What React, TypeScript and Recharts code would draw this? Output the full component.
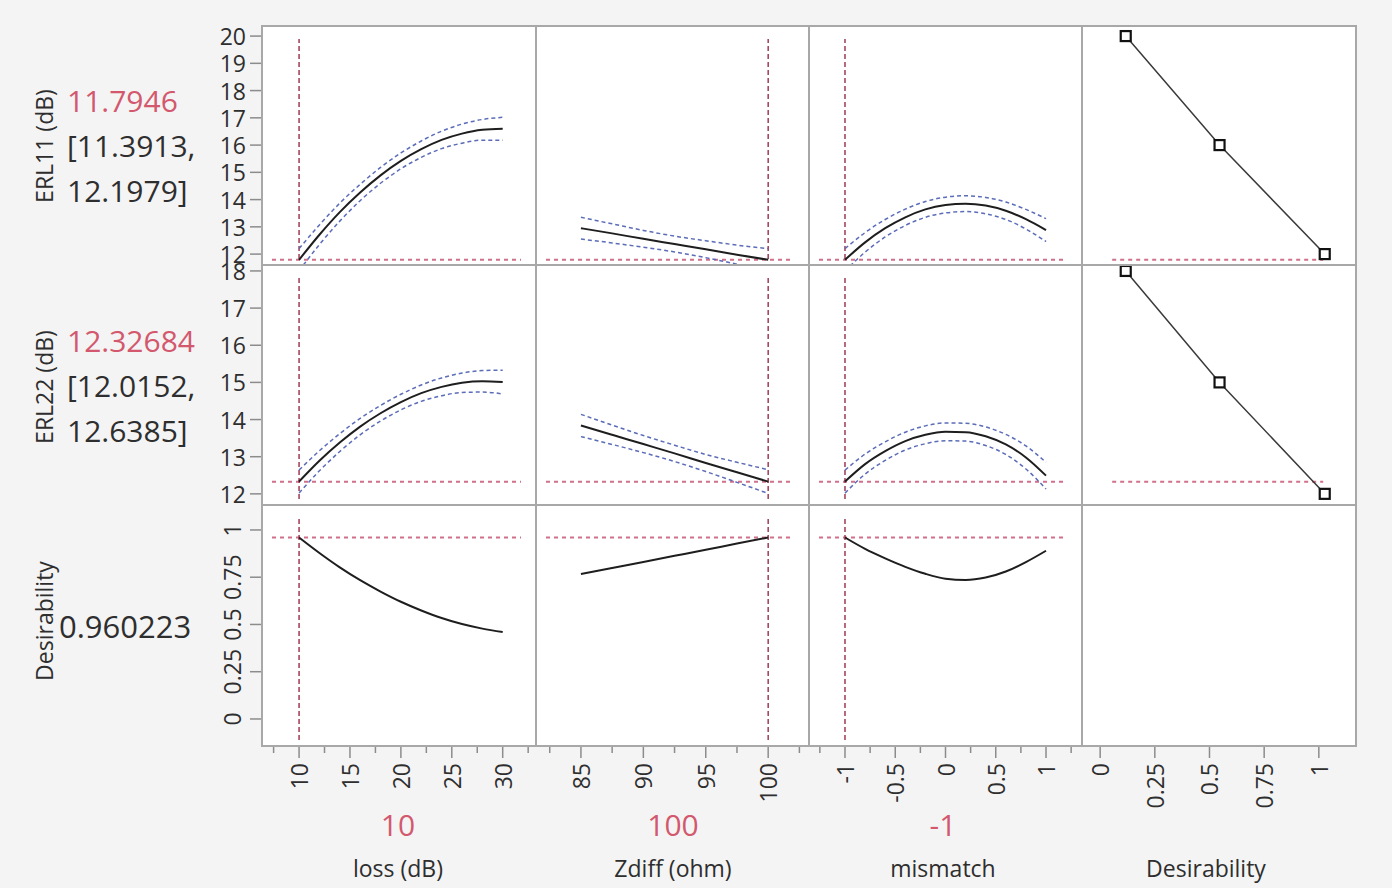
import React from 'react';
import { LineChart, Line, XAxis, YAxis, ReferenceLine } from 'recharts';

const FONT = '"Open Sans", "Noto Sans", sans-serif';
const INK = '#2e2e2e';
const RED = '#d3586d';
const TICK = '#8c8c8c';
const CURVE = '#1e1e1e';
const BAND = '#5b6cb8';
const CROSS_V = '#a23a52';
const CROSS_H = '#d0708a';

// factor grids the profiles are traced on
const lossX = [10, 12, 14, 16, 18, 20, 22, 24, 26, 28, 30];
const zdiffX = [85, 87.5, 90, 92.5, 95, 97.5, 100];
const mismatchX = [-1, -0.8, -0.6, -0.4, -0.2, 0, 0.2, 0.4, 0.6, 0.8, 1];

// ERL11 (dB) prediction and confidence limits
const erl11Loss = [11.79, 12.71, 13.54, 14.26, 14.89, 15.42, 15.85, 16.19, 16.42, 16.56, 16.6];
const erl11LossHi = [12.2, 13.07, 13.87, 14.56, 15.18, 15.71, 16.15, 16.51, 16.77, 16.94, 17.02];
const erl11LossLo = [11.39, 12.35, 13.21, 13.96, 14.6, 15.13, 15.55, 15.87, 16.07, 16.18, 16.18];
const erl11Zdiff = [12.95, 12.76, 12.56, 12.37, 12.18, 11.98, 11.79];
const erl11ZdiffHi = [13.35, 13.11, 12.87, 12.66, 12.49, 12.33, 12.2];
const erl11ZdiffLo = [12.55, 12.41, 12.25, 12.08, 11.87, 11.63, 11.38];
const erl11Mismatch = [11.79, 12.43, 12.95, 13.35, 13.64, 13.8, 13.85, 13.78, 13.59, 13.28, 12.88];
const erl11MismatchHi = [12.2, 12.79, 13.27, 13.65, 13.93, 14.09, 14.14, 14.08, 13.91, 13.64, 13.3];
const erl11MismatchLo = [11.38, 12.07, 12.63, 13.05, 13.35, 13.51, 13.56, 13.48, 13.27, 12.92, 12.46];

// ERL22 (dB) prediction and confidence limits
const erl22Loss = [12.33, 12.89, 13.38, 13.81, 14.17, 14.47, 14.71, 14.88, 14.99, 15.03, 15.01];
const erl22LossHi = [12.64, 13.16, 13.62, 14.03, 14.38, 14.68, 14.93, 15.12, 15.25, 15.32, 15.33];
const erl22LossLo = [12.02, 12.62, 13.14, 13.59, 13.96, 14.26, 14.49, 14.64, 14.73, 14.74, 14.69];
const erl22Zdiff = [13.84, 13.59, 13.34, 13.09, 12.83, 12.58, 12.33];
const erl22ZdiffHi = [14.14, 13.85, 13.57, 13.31, 13.06, 12.85, 12.65];
const erl22ZdiffLo = [13.54, 13.33, 13.11, 12.87, 12.6, 12.31, 12.01];
const erl22Mismatch = [12.33, 12.8, 13.15, 13.42, 13.59, 13.67, 13.66, 13.55, 13.33, 12.98, 12.49];
const erl22MismatchHi = [12.64, 13.07, 13.4, 13.66, 13.83, 13.91, 13.9, 13.8, 13.6, 13.29, 12.85];
const erl22MismatchLo = [12.02, 12.53, 12.9, 13.18, 13.35, 13.43, 13.42, 13.3, 13.06, 12.67, 12.13];

// overall desirability
const desLoss = [0.96, 0.878, 0.802, 0.734, 0.674, 0.62, 0.574, 0.534, 0.502, 0.478, 0.46];
const desZdiff = [0.767, 0.799, 0.831, 0.863, 0.895, 0.928, 0.96];
const desMismatch = [0.96, 0.9, 0.85, 0.805, 0.768, 0.742, 0.735, 0.748, 0.78, 0.83, 0.89];

// desirability functions (desirability, response)
const erl11DesD = [0.117, 0.546, 1.027];
const erl11DesY = [20, 16, 12];
const erl22DesD = [0.117, 0.546, 1.027];
const erl22DesY = [18, 15, 12];

// current settings
const factorNow = [10, 100, -1];
const factorNowLabels = ['10', '100', '-1'];
const responseNow = [11.7946, 12.32684, 0.960223];

// axis ticks
const lossTicks = [7.5, 10, 12.5, 15, 17.5, 20, 22.5, 25, 27.5, 30, 32.5];
const lossMajors = [10, 15, 20, 25, 30];
const zdiffTicks = [82.5, 85, 87.5, 90, 92.5, 95, 97.5, 100, 102.5];
const zdiffMajors = [85, 90, 95, 100];
const mismatchTicks = [-1.25, -1, -0.75, -0.5, -0.25, 0, 0.25, 0.5, 0.75, 1, 1.25];
const mismatchMajors = [-1, -0.5, 0, 0.5, 1];
const desTicks = [0, 0.25, 0.5, 0.75, 1];
const erl11Ticks = [12, 13, 14, 15, 16, 17, 18, 19, 20];
const erl22Ticks = [12, 13, 14, 15, 16, 17, 18];

const factorNames = ['loss (dB)', 'Zdiff (ohm)', 'mismatch', 'Desirability'];
const responseNames = ['ERL11 (dB)', 'ERL22 (dB)', 'Desirability'];

// panel edges on the page
const COLS = [262, 536, 809, 1082, 1356];
const ROWS = [26, 265, 505, 746];
const Y_AXIS_W = 90;
const X_AXIS_H = 90;

const xAxes = [
  { domain: [6.36, 33.27], ticks: lossTicks, majors: lossMajors },
  { domain: [81.4, 103.27], ticks: zdiffTicks, majors: zdiffMajors },
  { domain: [-1.358, 1.358], ticks: mismatchTicks, majors: mismatchMajors },
  { domain: [-0.083, 1.17], ticks: desTicks, majors: desTicks },
];

const yAxes = [
  { domain: [11.6, 20.37], ticks: erl11Ticks, rotated: false },
  { domain: [11.7, 18.16], ticks: erl22Ticks, rotated: false },
  { domain: [-0.143, 1.132], ticks: desTicks, rotated: true },
];

type Curve = { x: number[]; pred: number[]; hi?: number[]; lo?: number[] };

const curves: (Curve | null)[][] = [
  [
    { x: lossX, pred: erl11Loss, hi: erl11LossHi, lo: erl11LossLo },
    { x: zdiffX, pred: erl11Zdiff, hi: erl11ZdiffHi, lo: erl11ZdiffLo },
    { x: mismatchX, pred: erl11Mismatch, hi: erl11MismatchHi, lo: erl11MismatchLo },
    { x: erl11DesD, pred: erl11DesY },
  ],
  [
    { x: lossX, pred: erl22Loss, hi: erl22LossHi, lo: erl22LossLo },
    { x: zdiffX, pred: erl22Zdiff, hi: erl22ZdiffHi, lo: erl22ZdiffLo },
    { x: mismatchX, pred: erl22Mismatch, hi: erl22MismatchHi, lo: erl22MismatchLo },
    { x: erl22DesD, pred: erl22DesY },
  ],
  [
    { x: lossX, pred: desLoss },
    { x: zdiffX, pred: desZdiff },
    { x: mismatchX, pred: desMismatch },
    null,
  ],
];

const makeXTick = (majors: number[]) => (props: any) => {
  const { x, y, payload } = props;
  const v = payload.value;
  const major = majors.some((m) => Math.abs(m - v) < 1e-9);
  const ty = y + 17;
  return (
    <g>
      <line x1={x} x2={x} y1={y} y2={y + (major ? 12 : 7)} stroke={TICK} strokeWidth={1.5} />
      {major && (
        <text
          x={x}
          y={ty}
          transform={`rotate(-90 ${x} ${ty})`}
          textAnchor="end"
          dominantBaseline="central"
          fontSize={23}
          fontFamily={FONT}
          fill={INK}
        >
          {String(v)}
        </text>
      )}
    </g>
  );
};

const makeYTick = (rotated: boolean) => (props: any) => {
  const { x, y, payload } = props;
  const tx = rotated ? x - 30 : x - 16;
  return (
    <g>
      <line x1={x - 12} x2={x} y1={y} y2={y} stroke={TICK} strokeWidth={1.5} />
      <text
        x={tx}
        y={y}
        transform={rotated ? `rotate(-90 ${tx} ${y})` : undefined}
        textAnchor={rotated ? 'middle' : 'end'}
        dominantBaseline="central"
        fontSize={23}
        fontFamily={FONT}
        fill={INK}
      >
        {String(payload.value)}
      </text>
    </g>
  );
};

const squareDot = (props: any) => {
  const { cx, cy, index } = props;
  return <rect key={index} x={cx - 5} y={cy - 5} width={10} height={10} fill="#fff" stroke="#111" strokeWidth={2.2} />;
};

function ProfileCell({ r, c }: { r: number; c: number }) {
  const xa = xAxes[c];
  const ya = yAxes[r];
  const onLeft = c === 0;
  const onBottom = r === 2;
  const plotW = COLS[c + 1] - COLS[c];
  const plotH = ROWS[r + 1] - ROWS[r];
  const width = plotW + (onLeft ? Y_AXIS_W : 0);
  const height = plotH + (onBottom ? X_AXIS_H : 0);
  const curve = curves[r][c];
  const data = curve
    ? curve.x.map((x, i) => ({ x, pred: curve.pred[i], hi: curve.hi?.[i], lo: curve.lo?.[i] }))
    : [];

  // crosshair extents, inset a little from the frame
  const ux = (xa.domain[1] - xa.domain[0]) / plotW;
  const uy = (ya.domain[1] - ya.domain[0]) / plotH;
  const hFrom = c === 3 ? 0.055 : xa.domain[0] + 10 * ux;
  const hTo = c === 3 ? 1.02 : xa.domain[1] - 15 * ux;
  const vFrom = ya.domain[0] + 6 * uy;
  const vTo = ya.domain[1] - 13 * uy;
  const isDesFn = c === 3;

  return (
    <div style={{ position: 'absolute', left: COLS[c] - (onLeft ? Y_AXIS_W : 0), top: ROWS[r] }}>
      <LineChart width={width} height={height} data={data} margin={{ top: 0, right: 0, bottom: 0, left: 0 }}>
        <XAxis
          type="number"
          dataKey="x"
          domain={xa.domain}
          ticks={xa.ticks}
          interval={0}
          allowDataOverflow
          hide={!onBottom}
          height={onBottom ? X_AXIS_H : 0}
          axisLine={false}
          tickLine={false}
          tickSize={0}
          tickMargin={0}
          tick={makeXTick(xa.majors)}
        />
        <YAxis
          type="number"
          domain={ya.domain}
          ticks={ya.ticks}
          interval={0}
          allowDataOverflow
          hide={!onLeft}
          width={Y_AXIS_W}
          axisLine={false}
          tickLine={false}
          tickSize={0}
          tickMargin={0}
          tick={makeYTick(ya.rotated)}
        />
        {!(r === 2 && c === 3) && (
          <ReferenceLine
            segment={[
              { x: hFrom, y: responseNow[r] },
              { x: hTo, y: responseNow[r] },
            ]}
            stroke={CROSS_H}
            strokeWidth={2}
            strokeDasharray="4 4"
          />
        )}
        {c < 3 && (
          <ReferenceLine
            segment={[
              { x: factorNow[c], y: vFrom },
              { x: factorNow[c], y: vTo },
            ]}
            stroke={CROSS_V}
            strokeWidth={1.5}
            strokeDasharray="5 3"
          />
        )}
        {curve?.hi && (
          <Line dataKey="hi" type="monotone" stroke={BAND} strokeWidth={1.5} strokeDasharray="4 3" dot={false} activeDot={false} isAnimationActive={false} />
        )}
        {curve?.lo && (
          <Line dataKey="lo" type="monotone" stroke={BAND} strokeWidth={1.5} strokeDasharray="4 3" dot={false} activeDot={false} isAnimationActive={false} />
        )}
        {curve && (
          <Line
            dataKey="pred"
            type={isDesFn ? 'linear' : 'monotone'}
            stroke={isDesFn ? '#3a3a3a' : CURVE}
            strokeWidth={isDesFn ? 1.5 : 2}
            dot={isDesFn ? squareDot : false}
            activeDot={false}
            isAnimationActive={false}
          />
        )}
      </LineChart>
    </div>
  );
}

const abs = (extra: React.CSSProperties): React.CSSProperties => ({
  position: 'absolute',
  whiteSpace: 'nowrap',
  lineHeight: 1,
  fontFamily: FONT,
  ...extra,
});

const rowValueText = [
  { now: '11.7946', lo: '[11.3913,', hi: '12.1979]', ys: [101, 146, 191] },
  { now: '12.32684', lo: '[12.0152,', hi: '12.6385]', ys: [341, 386, 431] },
];
const rowTitleY = [146, 387, 621];
const colCenterX = [398, 673, 943, 1206];

export default function App() {
  const cells = [];
  for (let r = 0; r < 3; r++) for (let c = 0; c < 4; c++) cells.push(<ProfileCell key={`${r}-${c}`} r={r} c={c} />);

  return (
    <div style={{ position: 'absolute', left: 0, top: 0, width: 1392, height: 888, background: '#f4f4f4', overflow: 'hidden' }}>
      <style>{'.recharts-surface { overflow: visible; }'}</style>
      <div
        style={{
          position: 'absolute',
          left: COLS[0],
          top: ROWS[0],
          width: COLS[4] - COLS[0],
          height: ROWS[3] - ROWS[0],
          background: '#fff',
        }}
      />
      {cells}
      {COLS.map((x) => (
        <div key={`v${x}`} style={{ position: 'absolute', left: x - 1, top: ROWS[0] - 1, width: 2, height: ROWS[3] - ROWS[0] + 2, background: '#a8a8a8' }} />
      ))}
      {ROWS.map((y) => (
        <div key={`h${y}`} style={{ position: 'absolute', top: y - 1, left: COLS[0] - 1, height: 2, width: COLS[4] - COLS[0] + 2, background: '#a8a8a8' }} />
      ))}

      {responseNames.map((name, r) => (
        <div key={name + r} style={abs({ left: 44, top: rowTitleY[r], fontSize: 23, color: INK, transform: 'translate(-50%, -50%) rotate(-90deg)' })}>
          {name}
        </div>
      ))}
      {rowValueText.map((t) => (
        <React.Fragment key={t.now}>
          <div style={abs({ left: 67, top: t.ys[0], fontSize: 30, color: RED, transform: 'translateY(-50%)' })}>{t.now}</div>
          <div style={abs({ left: 67, top: t.ys[1], fontSize: 30, color: INK, transform: 'translateY(-50%)' })}>{t.lo}</div>
          <div style={abs({ left: 67, top: t.ys[2], fontSize: 30, color: INK, transform: 'translateY(-50%)' })}>{t.hi}</div>
        </React.Fragment>
      ))}
      <div style={abs({ left: 59, top: 626, fontSize: 31, color: INK, transform: 'translateY(-50%)' })}>{String(responseNow[2])}</div>

      {factorNowLabels.map((v, c) => (
        <div key={`now${c}`} style={abs({ left: colCenterX[c], top: 825, fontSize: 30, color: RED, transform: 'translate(-50%, -50%)' })}>
          {v}
        </div>
      ))}
      {factorNames.map((n, c) => (
        <div key={n + c} style={abs({ left: colCenterX[c], top: 868, fontSize: 23, color: INK, transform: 'translate(-50%, -50%)' })}>
          {n}
        </div>
      ))}
    </div>
  );
}
